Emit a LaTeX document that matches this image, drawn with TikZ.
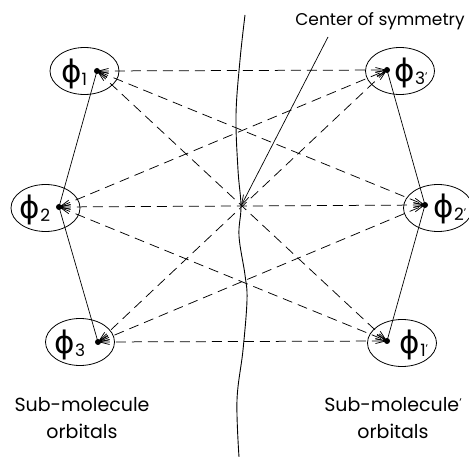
\documentclass[tikz,border=0pt]{standalone}
\usepackage{fontspec}
\setmainfont{Poppins}
\newfontfamily\dejavu{DejaVu Sans}
\usetikzlibrary{arrows.meta,shapes.geometric}
\newcommand\phis[1]{{\dejavu\char"03D5}\raisebox{-3pt}{\fontsize{17}{17}\selectfont #1}}
\newcommand\phip[1]{{\dejavu\char"03D5}\raisebox{-3pt}{\fontsize{17}{17}\selectfont #1\raisebox{4pt}{\fontsize{11}{11}\selectfont\char"27}}}
\begin{document}
\begin{tikzpicture}[x=1pt,y=-1pt,
  orb/.style={draw, ellipse, line width=0.8pt, minimum width=69pt, minimum height=47pt, inner sep=0pt},
  lab/.style={inner sep=0pt, font=\fontsize{31}{31}\selectfont},
  dotc/.style={fill, circle, inner sep=0pt, minimum size=6pt},
  dl/.style={line width=0.75pt, dash pattern=on 10pt off 6pt, {Straight Barb[length=10pt,width=5pt]}-{Straight Barb[length=10pt,width=5pt]}},
  sl/.style={line width=0.7pt},
  txt/.style={inner sep=0pt, align=center, font=\fontsize{17}{26}\selectfont}
]
\useasboundingbox (0,0) rectangle (469,457);
% ellipses
\node[orb] (e1) at (84.5,71) {};
\node[orb] (e2) at (45.5,208) {};
\node[orb] (e3) at (80,342) {};
\node[orb] (e3p) at (400,71) {};
\node[orb] (e2p) at (438,208) {};
\node[orb] (e1p) at (402,343) {};
% dots
\node[dotc] (d1) at (97,71) {};
\node[dotc] (d2) at (59,207) {};
\node[dotc] (d3) at (98,342) {};
\node[dotc] (d3p) at (387,70) {};
\node[dotc] (d2p) at (425,205) {};
\node[dotc] (d1p) at (387,341) {};
% labels
\node[lab] (l1) at (74,74) {\phis{1}};
\node[lab] (l2) at (35,210) {\phis{2}};
\node[lab] (l3) at (70,345) {\phis{3}};
\node[lab] (l3p) at (411,73) {\phip{3}};
\node[lab] (l2p) at (450,209) {\phip{2}};
\node[lab] (l1p) at (414,345) {\phip{1}};
% solid chain lines
\draw[sl] (d1.center) -- (d2.center) -- (d3.center);
\draw[sl] (d3p.center) -- (d2p.center) -- (d1p.center);
% dashed interaction lines
\foreach \a in {d1,d2,d3}{
  \foreach \b in {d3p,d2p,d1p}{
    \draw[dl] (\a.center) -- (\b.center);
  }
}
% wavy line
\draw[line width=0.9pt] plot[smooth, tension=0.6] coordinates {(245,15) (240,60) (236,115) (238,170) (241,206) (239,236) (245,275) (247,300) (243,350) (237,400) (239,457)};
% center of symmetry
\coordinate (c) at (241,206);
\coordinate (cst) at (328,37);
\node[txt] (cs) at (380,21) {Center of symmetry};
\draw[sl, -{Straight Barb[length=10pt,width=6pt]}] (cst) -- (c);
% captions
\node[txt, font=\fontsize{19}{27}\selectfont] (sl) at (82,418) {Sub-molecule\\orbitals};
\node[txt, font=\fontsize{19}{27}\selectfont] (sr) at (393,418) {Sub-molecule\raisebox{5pt}{\fontsize{11}{11}\selectfont\char"27}\\orbitals};
\end{tikzpicture}
\end{document}
